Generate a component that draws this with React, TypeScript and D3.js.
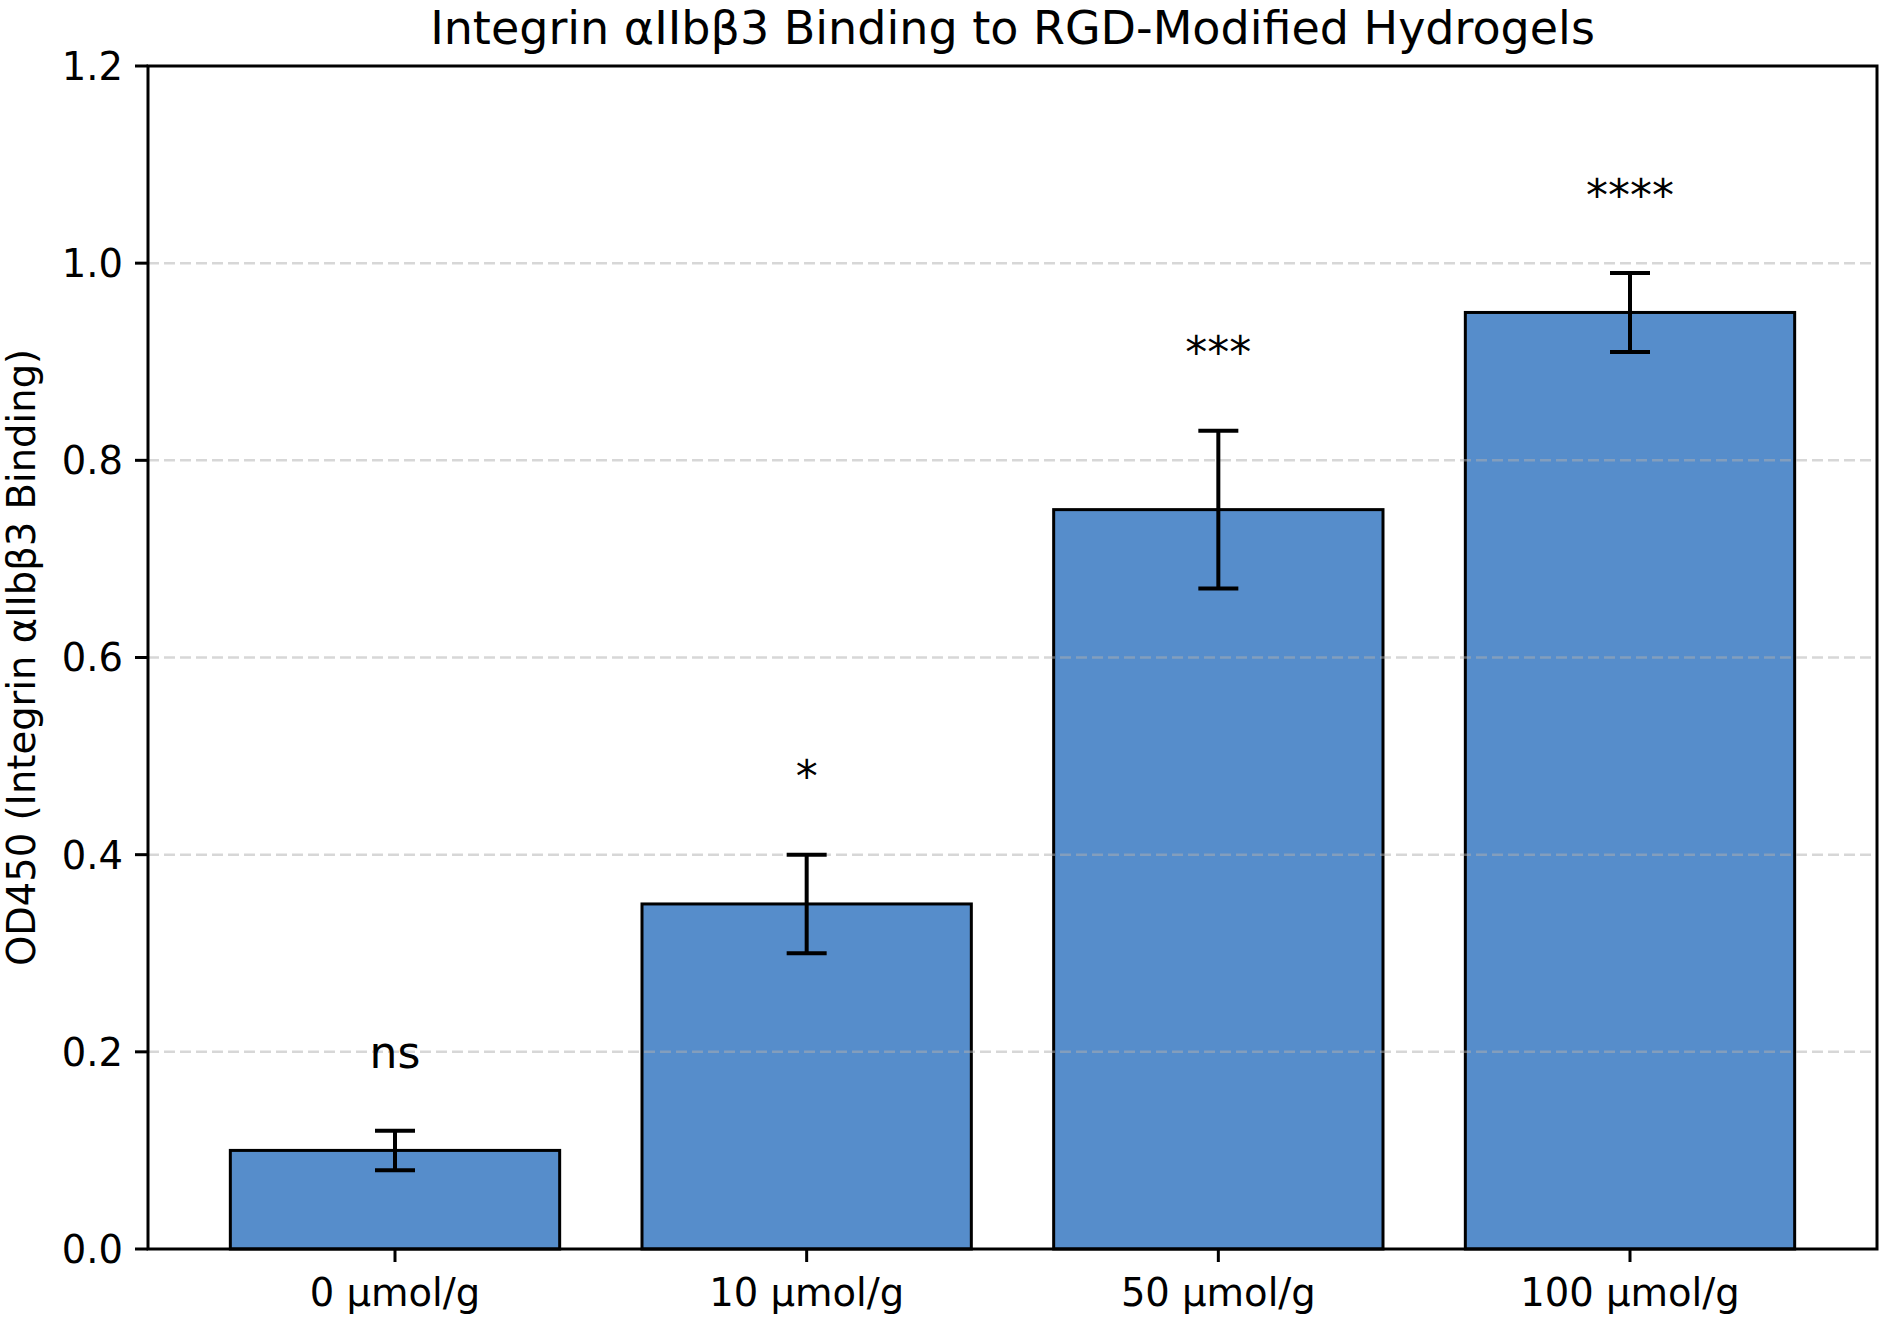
import React from "react";
import * as d3 from "d3";

const categories = ["0 µmol/g", "10 µmol/g", "50 µmol/g", "100 µmol/g"];
const means = [0.1, 0.35, 0.75, 0.95];
const errors = [0.02, 0.05, 0.08, 0.04];
const significance = ["ns", "*", "***", "****"];
const yTicks = [0.0, 0.2, 0.4, 0.6, 0.8, 1.0, 1.2];

const width = 1883;
const height = 1318;
const margin = { top: 66, right: 6, bottom: 69, left: 148 };
const font = "'DejaVu Sans', Verdana, sans-serif";

const App = () => {
  const x = d3
    .scaleLinear()
    .domain([-0.6, categories.length - 0.4])
    .range([margin.left, width - margin.right]);
  const y = d3
    .scaleLinear()
    .domain([0, 1.2])
    .range([height - margin.bottom, margin.top]);

  const barW = x(0.8) - x(0);
  const cap = 20;
  const fmt = d3.format(".1f");

  return (
    <svg
      width={width}
      height={height}
      style={{ position: "absolute", left: 0, top: 0, background: "#fff" }}
      fontFamily={font}
    >
      <rect width={width} height={height} fill="#fff" />

      {/* bars */}
      {means.map((m, i) => (
        <rect
          key={"bar" + i}
          x={x(i) - barW / 2}
          y={y(m)}
          width={barW}
          height={y(0) - y(m)}
          fill="#568dcb"
          stroke="#000"
          strokeWidth={3}
        />
      ))}

      {/* grid above the bars, faint */}
      {yTicks.slice(1, -1).map((t) => (
        <line
          key={"g" + t}
          x1={margin.left}
          x2={width - margin.right}
          y1={y(t)}
          y2={y(t)}
          stroke="#b0b0b0"
          strokeOpacity={0.5}
          strokeWidth={2.5}
          strokeDasharray="11,5"
        />
      ))}

      {/* error bars */}
      {means.map((m, i) => (
        <g key={"err" + i} stroke="#000" strokeWidth={4}>
          <line x1={x(i)} x2={x(i)} y1={y(m - errors[i])} y2={y(m + errors[i])} />
          <line x1={x(i) - cap} x2={x(i) + cap} y1={y(m + errors[i])} y2={y(m + errors[i])} />
          <line x1={x(i) - cap} x2={x(i) + cap} y1={y(m - errors[i])} y2={y(m - errors[i])} />
        </g>
      ))}

      {/* significance labels */}
      {means.map((m, i) => (
        <text
          key={"sig" + i}
          x={x(i)}
          y={y(m + errors[i] + 0.05) - 13}
          textAnchor="middle"
          fontSize={44}
          fill="#000"
        >
          {significance[i]}
        </text>
      ))}

      {/* frame */}
      <rect
        x={margin.left}
        y={margin.top}
        width={width - margin.right - margin.left}
        height={height - margin.bottom - margin.top}
        fill="none"
        stroke="#000"
        strokeWidth={3}
      />

      {/* y axis */}
      {yTicks.map((t) => (
        <g key={"yt" + t}>
          <line x1={margin.left - 13} x2={margin.left} y1={y(t)} y2={y(t)} stroke="#000" strokeWidth={3} />
          <text x={margin.left - 25} y={y(t)} dy="0.36em" textAnchor="end" fontSize={38.5} fill="#000">
            {fmt(t)}
          </text>
        </g>
      ))}

      {/* x axis */}
      {categories.map((c, i) => (
        <g key={"xt" + i}>
          <line x1={x(i)} x2={x(i)} y1={y(0)} y2={y(0) + 13} stroke="#000" strokeWidth={3} />
          <text x={x(i)} y={y(0) + 57} textAnchor="middle" fontSize={38.5} fill="#000">
            {c}
          </text>
        </g>
      ))}

      <text
        transform={`translate(35, ${(y(0) + y(1.2)) / 2}) rotate(-90)`}
        textAnchor="middle"
        fontSize={38.5}
        fill="#000"
      >
        OD450 (Integrin αIIbβ3 Binding)
      </text>

      <text x={(x(-0.6) + x(3.6)) / 2} y={44} textAnchor="middle" fontSize={46} fill="#000">
        Integrin αIIbβ3 Binding to RGD-Modified Hydrogels
      </text>
    </svg>
  );
};

export default App;
